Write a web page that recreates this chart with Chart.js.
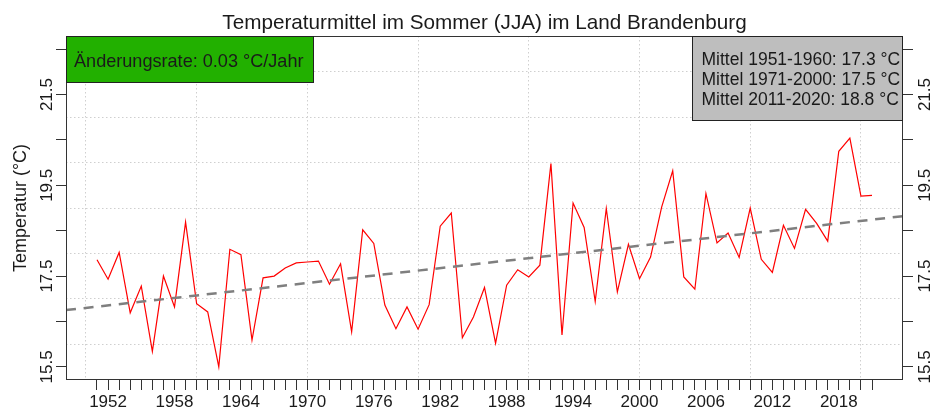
<!DOCTYPE html>
<html>
<head>
<meta charset="utf-8">
<script src="https://cdn.jsdelivr.net/npm/chart.js@4.4.1/dist/chart.umd.min.js"></script>
<style>
  html, body { margin: 0; padding: 0; background: #fff; }
  #chart { display: block; }
</style>
</head>
<body>
<canvas id="chart" width="934" height="412"></canvas>
<script>
// Sommer-Mitteltemperatur (JJA), Land Brandenburg
const years = [
  1951, 1952, 1953, 1954, 1955, 1956, 1957, 1958, 1959, 1960,
  1961, 1962, 1963, 1964, 1965, 1966, 1967, 1968, 1969, 1970,
  1971, 1972, 1973, 1974, 1975, 1976, 1977, 1978, 1979, 1980,
  1981, 1982, 1983, 1984, 1985, 1986, 1987, 1988, 1989, 1990,
  1991, 1992, 1993, 1994, 1995, 1996, 1997, 1998, 1999, 2000,
  2001, 2002, 2003, 2004, 2005, 2006, 2007, 2008, 2009, 2010,
  2011, 2012, 2013, 2014, 2015, 2016, 2017, 2018, 2019, 2020,
  2021
];
const temps = [
  17.86, 17.43, 18.02, 16.69, 17.28, 15.84, 17.50, 16.82, 18.69, 16.89,
  16.71, 15.50, 18.09, 17.97, 16.09, 17.46, 17.50, 17.68, 17.79, 17.81,
  17.83, 17.32, 17.77, 16.27, 18.52, 18.22, 16.86, 16.34, 16.82, 16.33,
  16.87, 18.60, 18.89, 16.14, 16.60, 17.25, 16.02, 17.30, 17.64, 17.48,
  17.74, 19.98, 16.20, 19.11, 18.57, 16.94, 18.99, 17.15, 18.20, 17.44,
  17.92, 19.02, 19.82, 17.48, 17.21, 19.32, 18.23, 18.45, 17.91, 19.00,
  17.87, 17.58, 18.62, 18.11, 18.97, 18.66, 18.27, 20.25, 20.54, 19.26,
  19.28
];

// linear trend, read at the two plot edges
const trendYears = [1948.2, 2023.8];
const trendVals = [16.75, 18.82];

// axes
const xRange = [1948.2, 2023.8];
const yRange = [15.21, 22.79];
const xLabelYears = [1952, 1958, 1964, 1970, 1976, 1982, 1988, 1994, 2000, 2006, 2012, 2018];
const xGridYears = [1950, 1960, 1970, 1980, 1990, 2000, 2010, 2020];
const yTickVals = [15.5, 16.5, 17.5, 18.5, 19.5, 20.5, 21.5, 22.5];
const yLabelVals = [15.5, 17.5, 19.5, 21.5];
const yGridVals = [16, 17, 18, 19, 20, 21, 22];

const title = "Temperaturmittel im Sommer (JJA) im Land Brandenburg";
const yTitle = "Temperatur (°C)";
const rateText = "Änderungsrate: 0.03 °C/Jahr";
const meanLines = [
  "Mittel 1951-1960: 17.3 °C",
  "Mittel 1971-2000: 17.5 °C",
  "Mittel 2011-2020: 18.8 °C"
];

const FONT = '"Liberation Sans", Arial, sans-serif';
const AXIS = "#333";
const TEXT = "#1a1a1a";

const setTicks = vals => scale => { scale.ticks = vals.map(v => ({ value: v })); };

const tickAxis = (extra) => Object.assign({
  type: "linear",
  grid: { drawOnChartArea: false, drawTicks: true, tickLength: 10, color: AXIS, tickColor: AXIS, lineWidth: 1 },
  border: { display: false }
}, extra);

const gridAxis = (extra) => Object.assign({
  type: "linear",
  grid: { drawOnChartArea: true, drawTicks: false, color: "#cfcfcf", lineWidth: 1 },
  border: { display: false, dash: [1.5, 2.5] },
  ticks: { display: false }
}, extra);

const decorations = {
  id: "decorations",
  afterDatasetsDraw(chart) {
    const ctx = chart.ctx;
    const a = chart.chartArea;
    const ys = chart.scales.y;
    ctx.save();

    // plot box
    ctx.strokeStyle = AXIS;
    ctx.lineWidth = 1;
    ctx.strokeRect(Math.round(a.left) + 0.5, Math.round(a.top) + 0.5,
      Math.round(a.right - a.left) - 1, Math.round(a.bottom - a.top) - 1);

    // title
    ctx.fillStyle = TEXT;
    ctx.font = `20.7px ${FONT}`;
    ctx.textAlign = "center";
    ctx.textBaseline = "alphabetic";
    ctx.fillText(title, (a.left + a.right) / 2, 28.5);

    // y-axis tick labels (rotated, both sides)
    ctx.font = `17px ${FONT}`;
    yLabelVals.forEach(v => {
      const py = ys.getPixelForValue(v);
      [a.left - 14, a.right + 27].forEach(px => {
        ctx.save();
        ctx.translate(px, py);
        ctx.rotate(-Math.PI / 2);
        ctx.fillText(v.toFixed(1), 0, 0);
        ctx.restore();
      });
    });

    // y-axis title
    ctx.save();
    ctx.font = `18px ${FONT}`;
    ctx.translate(26, (a.top + a.bottom) / 2);
    ctx.rotate(-Math.PI / 2);
    ctx.fillText(yTitle, 0, 0);
    ctx.restore();

    // green box: rate of change
    ctx.fillStyle = "#22b000";
    ctx.fillRect(a.left, a.top, 247, 46);
    ctx.strokeStyle = "#222";
    ctx.strokeRect(Math.round(a.left) + 0.5, Math.round(a.top) + 0.5, 247, 46);
    ctx.fillStyle = TEXT;
    ctx.textAlign = "left";
    ctx.font = `18.1px ${FONT}`;
    ctx.fillText(rateText, a.left + 8, a.top + 30.5);

    // gray box: period means
    ctx.fillStyle = "#bebebe";
    ctx.fillRect(a.right - 211, a.top, 211, 84);
    ctx.strokeStyle = "#222";
    ctx.strokeRect(Math.round(a.right - 211) + 0.5, Math.round(a.top) + 0.5, 210, 84);
    ctx.fillStyle = TEXT;
    ctx.font = `17.5px ${FONT}`;
    meanLines.forEach((t, i) => ctx.fillText(t, a.right - 201.5, a.top + 29 + i * 20.2));

    ctx.restore();
  }
};

new Chart(document.getElementById("chart"), {
  type: "line",
  data: {
    datasets: [
      {
        label: "Trend",
        data: trendYears.map((x, i) => ({ x, y: trendVals[i] })),
        borderColor: "#7f7f7f",
        borderWidth: 2.5,
        borderDash: [10, 7.7],
        pointRadius: 0,
        xAxisID: "x",
        yAxisID: "y"
      },
      {
        label: "JJA",
        data: years.map((x, i) => ({ x, y: temps[i] })),
        borderColor: "#ff0000",
        borderWidth: 1.2,
        pointRadius: 0,
        tension: 0,
        xAxisID: "x",
        yAxisID: "y"
      }
    ]
  },
  options: {
    responsive: false,
    animation: false,
    events: [],
    layout: { padding: { top: 36, left: 0, right: 0, bottom: 0 } },
    plugins: { legend: { display: false }, tooltip: { enabled: false }, title: { display: false } },
    scales: {
      xg: gridAxis({ position: "bottom", min: xRange[0], max: xRange[1],
        afterBuildTicks: setTicks(xGridYears), afterFit: s => { s.height = 0; } }),
      yg: gridAxis({ position: "left", min: yRange[0], max: yRange[1],
        afterBuildTicks: setTicks(yGridVals), afterFit: s => { s.width = 0; } }),
      x: tickAxis({
        position: "bottom", min: xRange[0], max: xRange[1],
        afterBuildTicks: setTicks(years),
        afterFit: s => { s.height = 32; },
        ticks: {
          autoSkip: false, maxRotation: 0, minRotation: 0, padding: 2,
          color: TEXT, font: { family: FONT, size: 17 },
          callback: v => (xLabelYears.includes(v) ? String(v) : "")
        }
      }),
      y: tickAxis({
        position: "left", min: yRange[0], max: yRange[1],
        afterBuildTicks: setTicks(yTickVals),
        afterFit: s => { s.width = 66; },
        ticks: { display: false }
      }),
      y2: tickAxis({
        position: "right", min: yRange[0], max: yRange[1],
        afterBuildTicks: setTicks(yTickVals),
        afterFit: s => { s.width = 31; },
        ticks: { display: false }
      })
    }
  },
  plugins: [decorations]
});
</script>
</body>
</html>
